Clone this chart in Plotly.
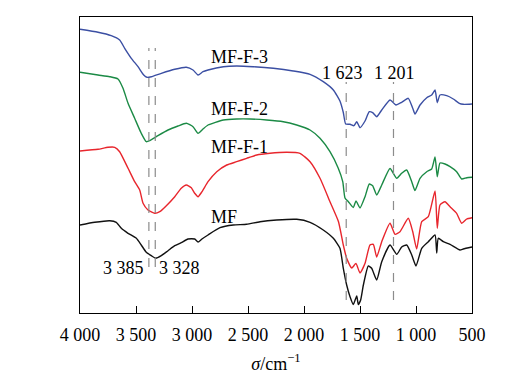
import plotly.graph_objects as go

# Wavenumber (cm^-1) and offset transmittance (a.u.) for each sample
mf_x = [4000, 3869, 3735, 3676, 3631, 3571, 3497, 3453, 3408, 3363, 3324, 3274, 3214, 3154, 3096, 3036, 2976, 2946, 2911, 2857, 2750, 2631, 2512, 2393, 2244, 2065, 1946, 1828, 1738, 1679, 1649, 1619, 1589, 1560, 1529, 1515, 1494, 1470, 1426, 1396, 1351, 1306, 1232, 1172, 1128, 1083, 1038, 1000, 949, 890, 830, 815, 801, 756, 696, 607, 578, 500]
mf_y = [88, 90.7, 92.3, 90.7, 84.7, 79.7, 74.7, 68, 60.7, 57.3, 54.7, 57.3, 62.3, 67.3, 70.3, 74, 74, 71, 74, 78, 85.3, 88, 88.7, 91.3, 93, 93.7, 90.7, 83, 74.7, 64.7, 44.7, 28, 16.3, 8.5, 17, 8.5, 13, 28, 47, 44.7, 33, 51.3, 68, 58.7, 66, 68, 58, 47, 64.7, 71.3, 78, 60, 74.7, 71.3, 68.7, 63, 64, 66]

f1_x = [4000, 3839, 3750, 3690, 3646, 3571, 3512, 3467, 3437, 3393, 3333, 3288, 3229, 3154, 3096, 3051, 3006, 2976, 2946, 2911, 2857, 2779, 2690, 2601, 2512, 2422, 2304, 2154, 2036, 1946, 1857, 1768, 1692, 1649, 1619, 1574, 1536, 1500, 1455, 1411, 1381, 1351, 1306, 1232, 1187, 1143, 1069, 1029, 994, 949, 890, 830, 810, 786, 741, 696, 637, 592, 547, 500]
f1_y = [162, 163.7, 165.7, 165.7, 161.3, 144.7, 131.3, 123, 109.7, 103, 99.7, 101.3, 107.3, 116.3, 124.7, 128, 125.3, 119.7, 116.3, 121.3, 131.3, 141.3, 148, 151.3, 154.7, 158, 159.7, 160.7, 159.7, 151.3, 134.7, 111.3, 91.3, 68, 54.7, 45, 49.5, 40, 49.7, 68, 68.7, 56, 71.3, 89.7, 78.7, 81.3, 94.7, 81.3, 64, 91.3, 96.3, 122, 84.7, 108, 111.3, 106.3, 99.7, 89.7, 94, 95.3]

f2_x = [4000, 3839, 3735, 3661, 3616, 3571, 3512, 3453, 3408, 3378, 3304, 3214, 3125, 3051, 2991, 2946, 2902, 2857, 2720, 2601, 2482, 2333, 2185, 2065, 1946, 1857, 1768, 1694, 1654, 1634, 1604, 1560, 1536, 1500, 1455, 1417, 1387, 1351, 1306, 1232, 1172, 1128, 1083, 1038, 1009, 964, 904, 860, 830, 810, 786, 741, 696, 637, 592, 547, 500]
f2_y = [240.7, 238, 236.3, 234, 224.7, 209.7, 194.7, 179.7, 171.3, 172.3, 177.3, 183, 187, 189.7, 186.3, 179.7, 184, 188, 193, 194, 194, 193, 191.3, 188, 183, 174.7, 161.3, 144.7, 131.3, 115, 111.3, 105.5, 112, 105, 116.3, 129, 127.3, 118, 128, 144.5, 134.7, 139.7, 143, 131.3, 122.5, 134.7, 141.3, 144, 156, 136.3, 150, 149, 146.3, 141.3, 134, 135.3, 135.7]

f3_x = [4000, 3839, 3721, 3646, 3601, 3542, 3482, 3431, 3402, 3363, 3274, 3154, 3051, 2991, 2946, 2902, 2857, 2720, 2601, 2453, 2274, 2096, 1946, 1828, 1738, 1679, 1649, 1628, 1589, 1554, 1529, 1500, 1455, 1417, 1387, 1351, 1306, 1232, 1179, 1128, 1069, 1029, 1009, 964, 904, 860, 830, 810, 786, 726, 667, 613, 578, 500]
f3_y = [283.7, 280.7, 277.3, 273, 264.7, 254.7, 246.3, 238, 235.7, 236.3, 239.7, 243.7, 245.7, 243, 238, 241.3, 243, 246.3, 247, 246.3, 244.7, 242, 238.7, 231.3, 223, 212, 200.5, 189, 188.7, 187.3, 191.3, 185.3, 192, 201.3, 200.3, 196.3, 203, 213, 208, 210.7, 214.7, 204.7, 199, 208, 215.3, 218, 223, 210.3, 218, 217.3, 214, 209.7, 208.7, 209]

series_names = ["MF", "MF-F-1", "MF-F-2", "MF-F-3"]
series_colors = ["#111111", "#e8262d", "#1b8a45", "#3b4fa3"]

tick_vals = [4000, 3500, 3000, 2500, 2000, 1500, 1000, 500]
tick_text = ["4 000", "3 500", "3 000", "2 500", "2 000", "1 500", "1 000", "500"]

peak_vals = [3385, 3328, 1623, 1201]
peak_text = ["3 385", "3 328", "1 623", "1 201"]

FONT = "Liberation Serif"
FS = 18

fig = go.Figure()
for xs, ys, name, col in zip([mf_x, f1_x, f2_x, f3_x], [mf_y, f1_y, f2_y, f3_y], series_names, series_colors):
    fig.add_trace(go.Scatter(x=xs, y=ys, mode="lines", name=name,
                             line=dict(color=col, width=1.4, shape="spline", smoothing=0.5),
                             showlegend=False))

# dashed marker lines
dash_spans = [(46, 265), (46, 265), (13, 231), (13, 231)]
for v, (y0, y1) in zip(peak_vals, dash_spans):
    fig.add_shape(type="line", xref="x", yref="y", x0=v, x1=v, y0=y0, y1=y1,
                  line=dict(color="#8c8c8c", width=1.2, dash="dash"))

# peak labels
peak_pos = [(3616, 45), (3116, 45), (1652, 240), (1196, 240)]
for t, (px, py) in zip(peak_text, peak_pos):
    fig.add_annotation(x=px, y=py, text=t, showarrow=False, xanchor="center", yanchor="middle",
                       font=dict(family=FONT, size=FS, color="black"))

# series labels
label_y = [96, 166, 204, 256]
for name, ly in zip(series_names, label_y):
    fig.add_annotation(x=2848, y=ly, text=name, showarrow=False, xanchor="left", yanchor="middle",
                       font=dict(family=FONT, size=FS, color="black"))

fig.update_layout(
    width=525, height=375,
    margin=dict(l=72, r=61, t=9, b=70),
    paper_bgcolor="white", plot_bgcolor="white",
    font=dict(family=FONT, size=FS, color="black"),
)
fig.update_xaxes(range=[4000, 500], tickvals=tick_vals, ticktext=tick_text,
                 ticks="inside", ticklen=7, tickcolor="black", tickwidth=1,
                 ticklabelstandoff=5,
                 showline=True, mirror=True, linecolor="black", linewidth=1.2,
                 showgrid=False, zeroline=False,
                 tickfont=dict(family=FONT, size=FS),
                 title=dict(text="<i>σ</i>/cm<sup>−1</sup>", font=dict(family=FONT, size=FS), standoff=13))
fig.update_yaxes(range=[0, 296], showticklabels=False, ticks="",
                 showline=True, mirror=True, linecolor="black", linewidth=1.2,
                 showgrid=False, zeroline=False)

fig.write_html("out.html")
